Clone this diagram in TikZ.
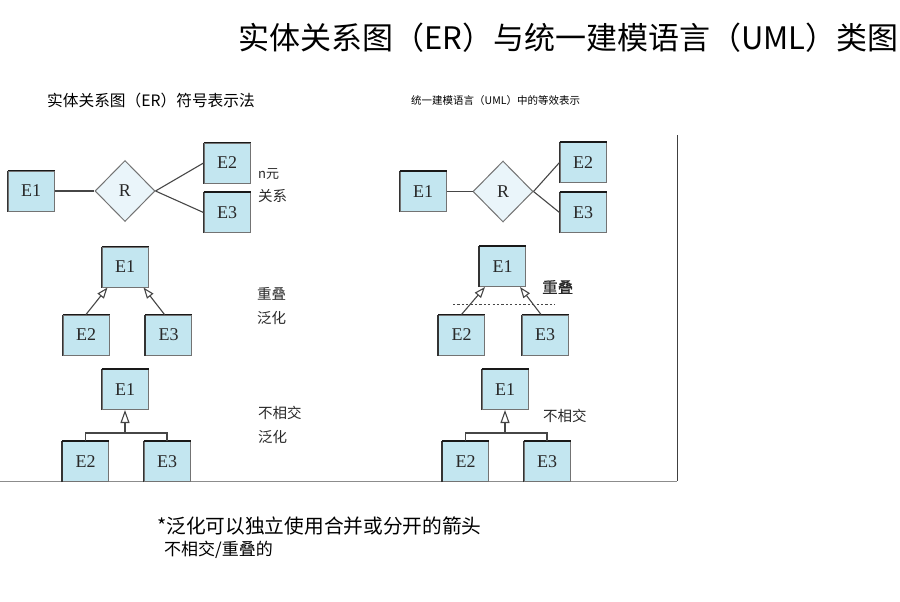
\documentclass[tikz,border=0pt]{standalone}
\usepackage{fontspec}
\setmainfont{Liberation Serif}
\newfontfamily\cjk{Noto Sans CJK SC}
\newfontfamily\cjkb{Noto Sans CJK SC}[FakeBold=0.8]
\usetikzlibrary{shapes.geometric,arrows.meta}
\definecolor{boxfill}{RGB}{195,230,240}
\definecolor{diafill}{RGB}{234,245,250}
\definecolor{edgec}{RGB}{70,70,70}
\definecolor{txtc}{RGB}{40,40,40}
\tikzset{
  ent/.style={draw=black!55, line width=1pt, fill=boxfill, minimum width=46pt, minimum height=40pt,
    inner sep=0pt, text=txtc, font=\fontsize{18}{18}\selectfont,
    append after command={(\tikzlastnode.south west) edge[draw=black!80,line width=1.1pt] (\tikzlastnode.north west)
      (\tikzlastnode.north west) edge[draw=black!90,line width=1.6pt] (\tikzlastnode.north east)}},
  rel/.style={draw=black!55, line width=1pt, fill=diafill, shape=diamond, minimum width=60pt, minimum height=61pt,
    inner sep=0pt, text=txtc, font=\fontsize{18}{18}\selectfont},
  conn/.style={draw=edgec, line width=1.1pt},
  gen/.style={conn, -{Triangle[open, length=11pt, width=8pt]}},
  gendis/.style={conn, -{Triangle[open, length=13pt, width=9pt]}},
  lbl/.style={anchor=west, inner sep=0pt, text=txtc, font=\cjk\fontsize{14.5}{14.5}\selectfont},
}
\begin{document}
\begin{tikzpicture}[x=1pt,y=-1pt]
\useasboundingbox (0,0) rectangle (900,602);
% frame
\draw[draw=black!75, line width=1pt] (677,135) coordinate (vt) -- (677,481) coordinate (vb);
\draw[draw=black!45, line width=1pt] (0,481) coordinate (hl) -- (vb);
% titles
\node[anchor=east, inner sep=0pt, font=\cjk\fontsize{31}{31}\selectfont] (title) at (899,38) {实体关系图（ER）与统一建模语言（UML）类图};
\node[anchor=west, inner sep=0pt, font=\cjk\fontsize{15.7}{15.7}\selectfont] (subl) at (47,101) {实体关系图（ER）符号表示法};
\node[anchor=west, inner sep=0pt, font=\cjk\fontsize{10.5}{10.5}\selectfont] (subr) at (411,101) {统一建模语言（UML）中的等效表示};
% left ER
\node[ent] (aE1) at (31,191) {E1};
\node[rel] (aR) at (125,191) {R};
\node[ent] (aE2) at (227,163) {E2};
\node[ent] (aE3) at (227,212.5) {E3};
\draw[conn] (aE1) -- (aR);
\draw[conn] (aR.east) -- (aE2.west);
\draw[conn] (aR.east) -- (aE3.west);
\node[lbl, font=\cjk\fontsize{13}{13}\selectfont] (nary) at (258,174) {n元};
\node[lbl] (rel1) at (258,196) {关系};
% right ER
\node[ent] (bE1) at (423,191.5) {E1};
\node[rel] (bR) at (503,191.5) {R};
\node[ent] (bE2) at (583,162.5) {E2};
\node[ent] (bE3) at (583,212.5) {E3};
\draw[conn] (bE1) -- (bR);
\draw[conn] (bR.east) -- (bE2.west);
\draw[conn] (bR.east) -- (bE3.west);
% left overlapping
\node[ent] (cE1) at (125,267) {E1};
\node[ent] (cE2) at (86,335) {E2};
\node[ent] (cE3) at (168.5,335) {E3};
\draw[gen] (cE2.north) -- ([xshift=6pt]cE1.south west);
\draw[gen] ([xshift=-4pt]cE3.north) -- ([xshift=-5pt]cE1.south east);
\node[lbl] (ov1) at (257,294) {重叠};
\node[lbl] (ov2) at (257,318) {泛化};
% right overlapping
\node[ent] (dE1) at (502.5,266.5) {E1};
\node[ent] (dE2) at (461.5,335) {E2};
\node[ent] (dE3) at (545,335) {E3};
\draw[gen] (dE2.north) -- ([xshift=6pt]dE1.south west);
\draw[gen] ([xshift=-4pt]dE3.north) -- ([xshift=-6pt]dE1.south east);
\draw[draw=edgec, line width=1pt, dash pattern=on 2.2pt off 2.2pt] (453,304) coordinate (dl) -- (555,304) coordinate (dr);
\node[lbl, font=\cjkb\fontsize{15.5}{15.5}\selectfont] (ov3) at (542,287) {重叠};
% left disjoint
\node[ent] (eE1) at (125,389.5) {E1};
\node[ent] (eE2) at (85.5,461.5) {E2};
\node[ent] (eE3) at (167,461.5) {E3};
\coordinate (ej) at (125,433);
\draw[gendis] (ej) -- (eE1.south);
\draw[conn] (eE2.north) |- (ej) -| (eE3.north);
\node[lbl] (dj1) at (258,413) {不相交};
\node[lbl] (dj2) at (258,437) {泛化};
% right disjoint
\node[ent] (fE1) at (505,389.5) {E1};
\node[ent] (fE2) at (465.5,461.5) {E2};
\node[ent] (fE3) at (547,461.5) {E3};
\coordinate (fj) at (505,433);
\draw[gendis] (fj) -- (fE1.south);
\draw[conn] (fE2.north) |- (fj) -| (fE3.north);
\node[lbl] (dj3) at (543,416) {不相交};
% footnote
\node[anchor=west, inner sep=0pt, font=\cjk\fontsize{19.7}{19.7}\selectfont] (fn1) at (157,526) {*泛化可以独立使用合并或分开的箭头};
\node[anchor=west, inner sep=0pt, font=\cjk\fontsize{17}{17}\selectfont] (fn2) at (164,550) {不相交/重叠的};
\end{tikzpicture}
\end{document}
